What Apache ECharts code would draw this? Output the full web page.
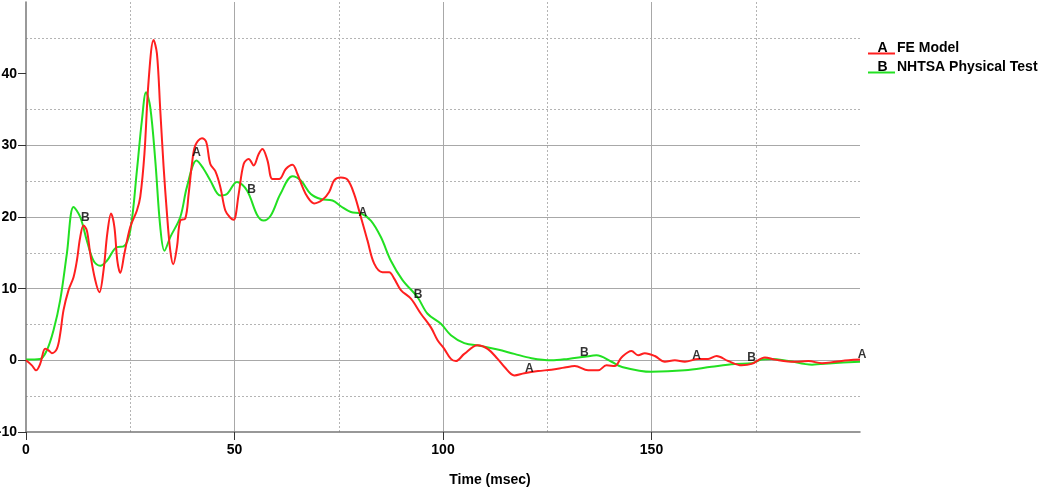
<!DOCTYPE html>
<html>
<head>
<meta charset="utf-8">
<script src="https://cdn.jsdelivr.net/npm/echarts@6/dist/echarts.min.js"></script>
<style>
html,body{margin:0;padding:0;background:#fff;}
#chart{width:1051px;height:491px;}
</style>
</head>
<body>
<div id="chart"></div>
<script>
// FE Model (curve A)
const feTime = [0,1.4,2.4,3.4,4.6,5.4,6.2,7.4,8.2,9.0,10.2,11.4,12.2,13.0,13.8,14.6,15.4,16.6,17.6,18.6,19.5,20.4,21.2,21.9,22.6,23.6,25.0,26.6,27.4,28.4,29.4,30.6,31.4,32.2,33.0,33.8,34.6,35.3,36.2,37.0,38.2,39.0,39.8,40.6,42.2,43.2,44.2,45.4,46.6,47.8,49.0,49.8,51.0,52.2,53.4,54.6,55.8,56.7,57.9,59.1,60.7,62.3,63.9,65.1,66.3,67.5,69.1,71.1,72.7,73.9,75.5,77.1,78.7,80.3,81.9,83.5,85.5,87.1,88.3,89.9,92.3,94.7,97.1,98.7,100.3,101.9,103.1,105.1,108.3,110.7,113.1,114.7,117.1,119.5,122.8,126.0,129.2,131.6,134.8,137.2,139.2,141.2,142.8,145.2,146.8,148.4,150.8,153.2,155.6,158.0,161.2,163.6,165.6,168.4,171.6,174.0,177.2,179.6,184.4,187.6,190.9,194.1,197.3,200.0];
const feValue = [0,-0.7,-1.4,-0.5,1.6,1.4,1.0,1.6,3.7,7.0,9.8,11.6,13.9,17.2,18.8,18.1,14.9,11.2,9.5,12.6,17.7,20.5,18.6,13.9,12.2,14.9,18.6,20.9,22.8,28.8,39.0,44.7,42.8,34.9,27.0,20.5,15.3,13.4,15.8,19.5,19.8,23.2,27.4,30.0,31.0,30.5,27.4,26.4,24.2,20.9,19.9,19.6,23.2,27.4,28.1,27.2,28.8,29.5,27.9,25.3,25.3,26.7,27.3,26.0,24.2,22.8,21.9,22.4,23.5,25.1,25.5,25.2,23.2,20.0,16.7,13.5,12.3,12.3,11.4,9.8,8.6,6.5,4.6,2.8,1.6,0.2,-0.1,0.9,2.1,1.6,0.2,-0.9,-2.1,-1.8,-1.5,-1.3,-1.0,-0.8,-1.4,-1.4,-0.7,-0.8,0.4,1.3,0.7,1.0,0.6,-0.2,0.0,-0.2,0.2,0.2,0.6,-0.1,-0.7,-0.5,0.4,0.1,-0.2,-0.1,-0.4,-0.2,0.0,0.1];

// NHTSA Physical Test (curve B)
const testTime = [0,3.4,5.0,6.6,8.2,9.8,11.4,13.0,14.6,16.2,17.8,19.4,21.8,23.4,25.0,26.6,27.8,28.8,29.8,31.0,32.2,33.2,34.6,37.0,38.6,40.9,42.6,44.2,46.6,48.2,50.6,53.0,55.5,57.0,58.7,61.0,63.9,65.9,68.3,70.7,73.5,75.5,77.9,80.3,82.7,85.1,87.5,90.3,93.9,96.3,99.5,101.9,105.1,109.1,113.1,117.1,121.2,126.0,130.0,134.0,136.8,140.4,142.8,150.0,158.0,164.4,170.0,174.0,176.4,178.8,182.9,188.5,193.3,200.0];
const testValue = [0.1,0.2,1.4,4.2,8.4,14.9,21.4,20.0,16.7,13.9,13.2,13.9,15.8,15.9,18.1,26.5,33.5,37.4,35.3,27.9,18.6,15.3,17.2,20.0,24.2,27.9,26.7,25.1,23.0,23.2,24.9,23.7,20.2,19.5,20.2,23.2,25.7,25.1,23.2,22.5,22.3,21.5,20.7,20.5,19.5,17.2,13.9,11.2,8.8,6.5,5.1,3.5,2.4,2.0,1.5,0.9,0.3,0.0,0.2,0.5,0.7,-0.2,-0.9,-1.6,-1.4,-0.9,-0.5,-0.4,0.1,0.2,-0.1,-0.6,-0.4,-0.2];

// curve letter markers
const markA_x = [40.9, 80.8, 120.7, 160.8, 200.5];
const markA_y = [29.0, 20.6, -1.1, 0.6, 0.8];
const markB_x = [14.2, 54.1, 94.0, 133.9, 174.0];
const markB_y = [19.9, 23.8, 9.1, 1.1, 0.3];

// axis ticks
const xTicks = [0, 50, 100, 150];
const yTicks = [-10, 0, 10, 20, 30, 40];
const xMin = 0, xMax = 200, yMin = -10, yMax = 50;

const legendNames = ['FE Model', 'NHTSA Physical Test'];
const legendLetters = ['A', 'B'];
const xTitle = 'Time (msec)';

const RED = '#ff1f1f';
const GREEN = '#22e022';
const FONT = 'Arial, "Liberation Sans", sans-serif';

const zip = (a, b) => a.map((v, i) => [v, b[i]]);

const chart = echarts.init(document.getElementById('chart'), null, {renderer: 'canvas'});

const legendY = [48, 67];
const graphics = [];
[RED, GREEN].forEach((c, i) => {
  graphics.push({type: 'line', shape: {x1: 868, y1: legendY[i] + 5.5, x2: 895, y2: legendY[i] + 5.5}, style: {stroke: c, lineWidth: 2}});
  graphics.push({type: 'text', x: 882.5, y: legendY[i], style: {text: legendLetters[i], font: 'bold 14px ' + FONT, fill: '#000', textAlign: 'center', textVerticalAlign: 'middle'}});
  graphics.push({type: 'text', x: 897, y: legendY[i], style: {text: legendNames[i], font: 'bold 14px ' + FONT, fill: '#000', textAlign: 'left', textVerticalAlign: 'middle'}});
});
graphics.push({type: 'text', x: 490, y: 480, style: {text: xTitle, font: 'bold 14px ' + FONT, fill: '#000', textAlign: 'center', textVerticalAlign: 'middle'}});

const markerLabel = (t) => ({show: true, position: 'inside', formatter: t, color: '#000', fontFamily: FONT, fontWeight: 'bold', fontSize: 12});

chart.setOption({
  animation: false,
  backgroundColor: '#fff',
  grid: {left: 26, right: 191, top: 2, bottom: 59, containLabel: false, outerBoundsMode: 'none'},
  xAxis: {
    type: 'value', min: xMin, max: xMax, interval: 50,
    axisLine: {show: true, onZero: false, lineStyle: {color: '#777', width: 1.5}},
    axisTick: {show: true, length: 8, customValues: xTicks, lineStyle: {color: '#333', width: 1}},
    axisLabel: {show: true, margin: 11, customValues: xTicks, color: '#000', fontFamily: FONT, fontWeight: 'bold', fontSize: 14},
    splitLine: {show: true, showMinLine: false, showMaxLine: true, lineStyle: {color: '#a8a8a8', width: 1}},
    minorTick: {show: false, splitNumber: 2},
    minorSplitLine: {show: true, lineStyle: {color: '#b4b4b4', width: 1, type: [2, 2]}}
  },
  yAxis: {
    type: 'value', min: yMin, max: yMax, interval: 10,
    axisLine: {show: true, onZero: false, lineStyle: {color: '#777', width: 1.5}},
    axisTick: {show: true, length: 8, customValues: yTicks, lineStyle: {color: '#333', width: 1}},
    axisLabel: {show: true, margin: 9, customValues: yTicks, color: '#000', fontFamily: FONT, fontWeight: 'bold', fontSize: 14},
    splitLine: {show: true, showMinLine: false, showMaxLine: false, lineStyle: {color: '#a8a8a8', width: 1}},
    minorTick: {show: false, splitNumber: 2},
    minorSplitLine: {show: true, lineStyle: {color: '#b4b4b4', width: 1, type: [2, 2]}}
  },
  graphic: graphics,
  series: [
    {name: legendNames[1], type: 'line', data: zip(testTime, testValue), showSymbol: false, smooth: 0.35,
      lineStyle: {color: GREEN, width: 2}, itemStyle: {color: GREEN}, z: 3},
    {name: legendNames[0], type: 'line', data: zip(feTime, feValue), showSymbol: false, smooth: 0.35,
      lineStyle: {color: RED, width: 2}, itemStyle: {color: RED}, z: 4},
    {type: 'scatter', data: zip(markA_x, markA_y), symbolSize: 0, clip: false, label: markerLabel('A'), z: 6, silent: true},
    {type: 'scatter', data: zip(markB_x, markB_y), symbolSize: 0, clip: false, label: markerLabel('B'), z: 6, silent: true}
  ]
});
</script>
</body>
</html>
